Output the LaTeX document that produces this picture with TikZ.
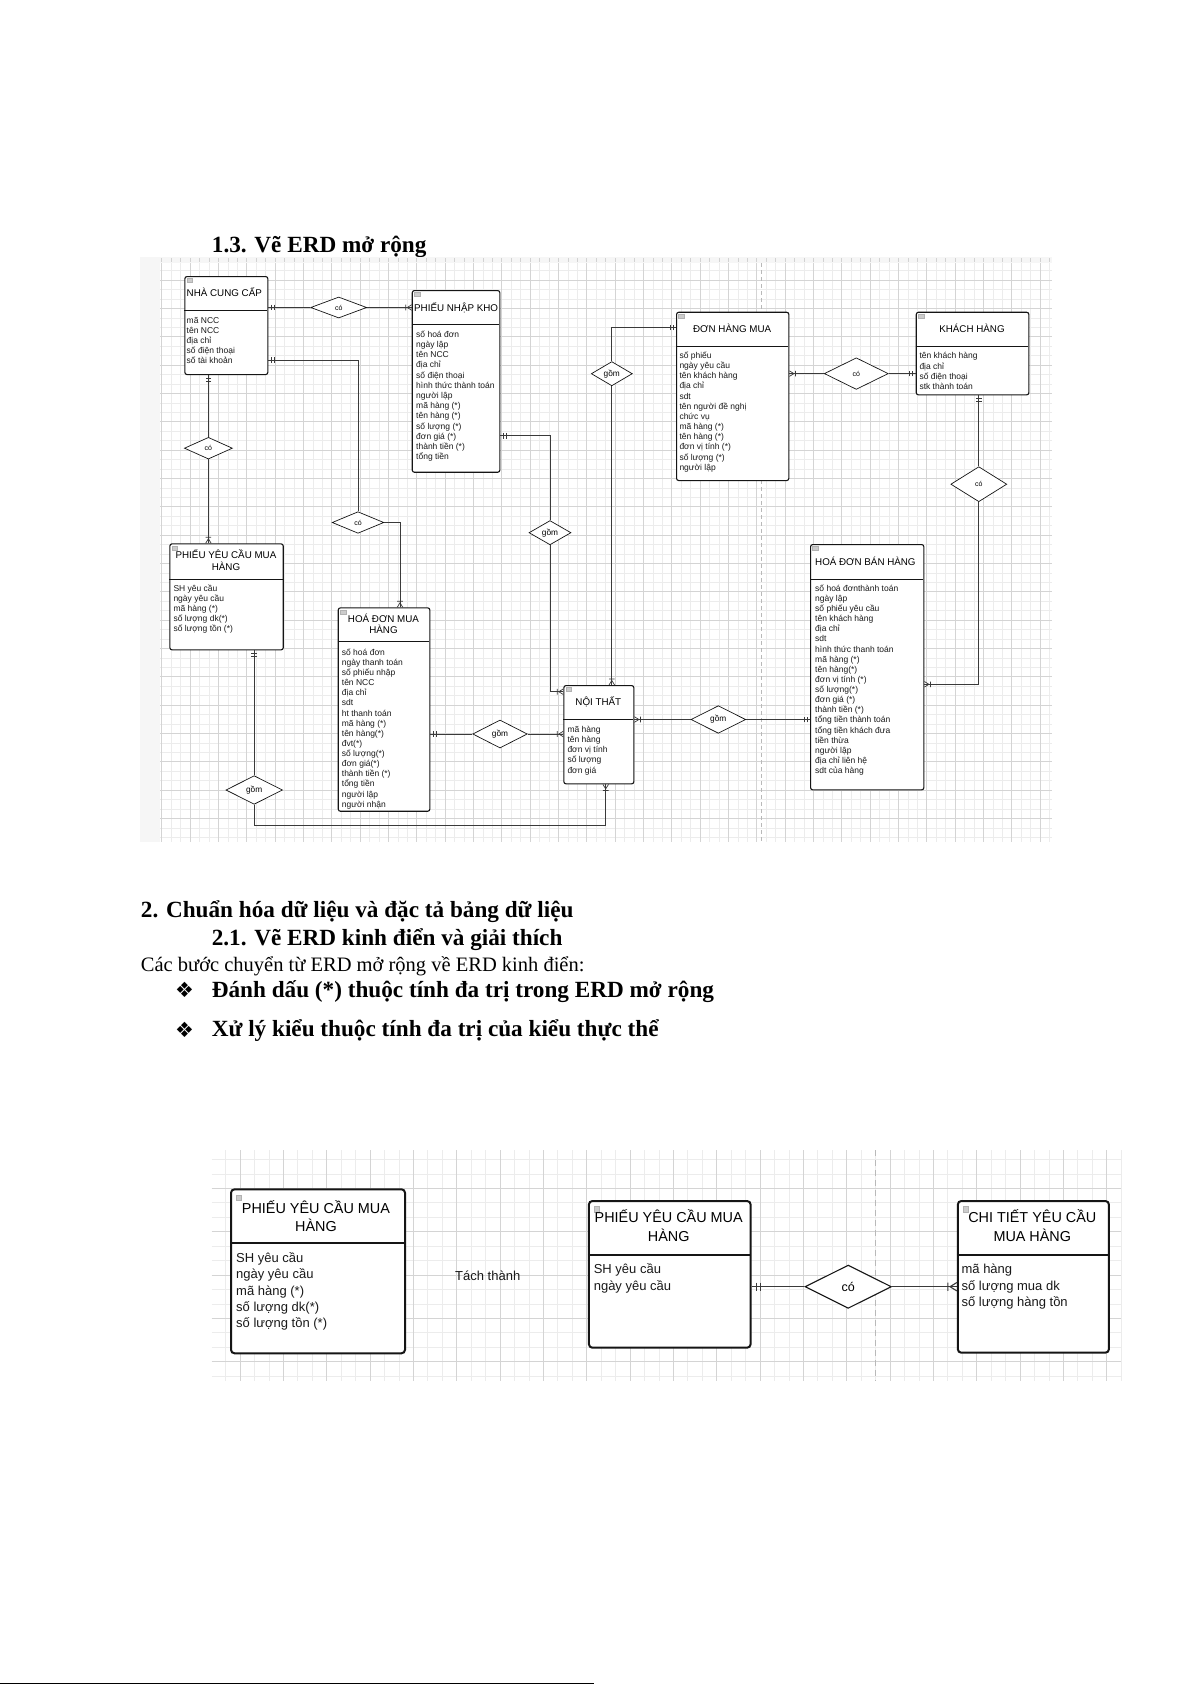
\documentclass[tikz,border=0pt]{standalone}
\usepackage{fontspec}
\setmainfont{Liberation Serif}
\newfontfamily\erdfont{Liberation Sans}
\newfontfamily\symfont{DejaVu Sans}
\usetikzlibrary{shapes.geometric}
\definecolor{gmin}{HTML}{ECECEC}
\definecolor{gmaj}{HTML}{D4D4D4}
\definecolor{lnc}{HTML}{3A3A3A}
\definecolor{boxc}{HTML}{151515}
\newcommand{\myfs}[2]{\fontsize{#1bp}{#2bp}\selectfont}
\newcommand{\mkentA}[6]{%
  \node[entA,minimum width=#4bp,minimum height=#5bp] (#1) at (#2,#3) {};
  \draw[sepA] (#2,#6) -- ({#2+#4},#6);
  \draw[icon] ({#2+2.5},{#3+2.5}) rectangle ({#2+8},{#3+6.5});
}
\newcommand{\mkentB}[6]{%
  \node[entB,minimum width=#4bp,minimum height=#5bp] (#1) at (#2,#3) {};
  \draw[sepB] (#2,#6) -- ({#2+#4},#6);
  \draw[icon] ({#2+6},{#3+6.5}) rectangle ({#2+11},{#3+12});
}
\begin{document}
\begin{tikzpicture}[x=1bp,y=-1bp,
 hd/.style={font=\myfs{23.2}{28}\bfseries,inner sep=0,anchor=base west},
 bodytxt/.style={font=\myfs{20.5}{24},inner sep=0,anchor=base west},
 bul/.style={font=\symfont\myfs{21}{24},inner sep=0,anchor=base west},
 entA/.style={draw=boxc,line width=1.1bp,rounded corners=2.2bp,fill=white,inner sep=0,anchor=north west},
 entB/.style={draw=boxc,line width=2bp,rounded corners=3.5bp,fill=white,inner sep=0,anchor=north west},
 sepA/.style={draw=boxc,line width=1bp},
 sepB/.style={draw=boxc,line width=1.8bp},
 icon/.style={fill=gray!40,draw=gray!60,line width=0.3bp},
 attr/.style={font=\erdfont\myfs{8.5}{10},inner sep=0,anchor=base west,text=black!90},
 ttl/.style={font=\erdfont\myfs{9.8}{11},inner sep=0,anchor=base west},
 ttlc/.style={ttl,anchor=base},
 attrB/.style={font=\erdfont\myfs{13}{15},inner sep=0,anchor=base west,text=black!90},
 ttlB/.style={font=\erdfont\myfs{14.4}{16},inner sep=0,anchor=base},
 rel/.style={diamond,draw=boxc,line width=0.7bp,fill=white,inner sep=0,font=\erdfont\myfs{7}{8}},
 gom/.style={rel,font=\erdfont\myfs{8.3}{9}},
 relB/.style={diamond,draw=boxc,line width=1.1bp,fill=white,inner sep=0,font=\erdfont\myfs{12.5}{14}},
 conn/.style={draw=lnc,line width=0.75bp},
 connB/.style={draw=lnc,line width=1.1bp},
 mk/.style={draw=lnc,line width=0.7bp},
 pics/one/.style={code={\draw[mk] (3,-2.8)--(3,2.8) (6,-2.8)--(6,2.8);}},
 pics/many/.style={code={\draw[mk] (0,-2.8)--(4.5,0)--(0,2.8) (6,-2.8)--(6,2.8);}},
]
\useasboundingbox (0,0) rectangle (1191,1685);
\fill[white] (0,0) rectangle (1191,1685);

% ---------------- page text ----------------
\node[hd] (h13) at (211.7,252.7) {1.3. Vẽ ERD mở rộng};
\node[hd] (h2) at (140.7,917.6) {2. Chuẩn hóa dữ liệu và đặc tả bảng dữ liệu};
\node[hd] (h21) at (211.6,945) {2.1. Vẽ ERD kinh điển và giải thích};
\node[bodytxt] (p1) at (140.7,971.9) {Các bước chuyển từ ERD mở rộng về ERD kinh điển:};
\node[bul] (b1) at (175,997.5) {❖};
\node[hd] (t1) at (211.6,997) {Đánh dấu (*) thuộc tính đa trị trong ERD mở rộng};
\node[bul] (b2) at (175,1037.1) {❖};
\node[hd] (t2) at (211.6,1036.6) {Xử lý kiểu thuộc tính đa trị của kiểu thực thể};
\draw[line width=1.6bp] (0,1683.5) -- (594,1683.5);

% ---------------- screenshot 1 background ----------------
\fill[gray!7] (140,257) rectangle (1052,842);
\fill[white] (160,263) rectangle (1052,842);
\foreach \i in {0,...,94} \draw[gmin,line width=0.5bp] ({161.7+9.4444*\i},263) -- ({161.7+9.4444*\i},842);
\foreach \j in {-1,...,59} \draw[gmin,line width=0.5bp] (160,{280+9.4444*\j}) -- (1052,{280+9.4444*\j});
\foreach \i in {0,...,31} \draw[gmaj,line width=0.6bp] ({161.7+28.333*\i},263) -- ({161.7+28.333*\i},842);
\foreach \j in {0,...,19} \draw[gmaj,line width=0.6bp] (160,{280+28.333*\j}) -- (1052,{280+28.333*\j});
\foreach \i in {0,...,94} \draw[gray!35,line width=0.5bp] ({161.7+9.4444*\i},258) -- ++(0,3.5);
\draw[gray!55,line width=0.8bp,dash pattern=on 4bp off 3bp] (761.3,263) -- (761.3,842);

% ---------------- entities (ERD mở rộng) ----------------
\mkentA{ncc}{184.3}{276}{83}{98}{310.7}
\node[ttl] (ncc-t) at (186.5,296.3) {NHÀ CUNG CẤP};
\foreach \t [count=\i from 0] in {mã NCC,tên NCC,địa chỉ,số điện thoại,số tài khoản}
  \node[attr] (ncc-a\i) at (186.5,{323+10.2*\i}) {\t};

\mkentA{pnk}{411.7}{290}{87.6}{181.7}{324.3}
\node[ttl] (pnk-t) at (414,311.3) {PHIẾU NHẬP KHO};
\foreach \t [count=\i from 0] in {số hoá đơn,ngày lập,tên NCC,địa chỉ,số điện thoại,hình thức thành toán,người lập,mã hàng (*),tên hàng (*),số lượng (*),đơn giá (*),thành tiền (*),tổng tiền}
  \node[attr] (pnk-a\i) at (416,{337.3+10.2*\i}) {\t};

\mkentA{dhm}{676}{311.7}{112.3}{168.3}{346.7}
\node[ttlc] (dhm-t) at (732.2,332) {ĐƠN HÀNG MUA};
\foreach \t [count=\i from 0] in {số phiếu,ngày yêu cầu,tên khách hàng,địa chỉ,sdt,tên người đề nghị,chức vụ,mã hàng (*),tên hàng (*),đơn vị tính (*),số lượng (*),người lập}
  \node[attr] (dhm-a\i) at (679.3,{358.3+10.18*\i}) {\t};

\mkentA{kh}{915.7}{311.7}{112.6}{82.6}{346.7}
\node[ttlc] (kh-t) at (972,332) {KHÁCH HÀNG};
\foreach \t [count=\i from 0] in {tên khách hàng,địa chỉ,số điện thoại,stk thành toán}
  \node[attr] (kh-a\i) at (919.3,{358.7+10.3*\i}) {\t};

\mkentA{pyc}{169.3}{543.3}{113.4}{106}{579.3}
\node[ttlc] (pyc-t1) at (226,558) {PHIẾU YÊU CẦU MUA};
\node[ttlc] (pyc-t2) at (226,570.3) {HÀNG};
\foreach \t [count=\i from 0] in {SH yêu cầu,ngày yêu cầu,mã hàng (*),số lượng dk(*),số lượng tồn (*)}
  \node[attr] (pyc-a\i) at (173.3,{591.3+10.1*\i}) {\t};

\mkentA{hdm}{337.7}{607.3}{91.6}{203.4}{641.7}
\node[ttlc] (hdm-t1) at (383.5,622) {HOÁ ĐƠN MUA};
\node[ttlc] (hdm-t2) at (383.5,633.7) {HÀNG};
\foreach \t [count=\i from 0] in {số hoá đơn,ngày thanh toán,số phiếu nhập,tên NCC,địa chỉ,sdt,ht thanh toán,mã hàng (*),tên hàng(*),đvt(*),số lượng(*),đơn giá(*),thành tiền (*),tổng tiền,người lập,người nhận}
  \node[attr] (hdm-a\i) at (341.7,{655.3+10.13*\i}) {\t};

\mkentA{nt}{563.3}{685}{70}{98.3}{719.3}
\node[ttlc] (nt-t) at (598.3,705.3) {NỘI THẤT};
\foreach \t [count=\i from 0] in {mã hàng,tên hàng,đơn vị tính,số lượng,đơn giá}
  \node[attr] (nt-a\i) at (567.3,{732.3+10.2*\i}) {\t};

\mkentA{hdb}{810}{544}{113.3}{245.3}{579.3}
\node[ttl] (hdb-t) at (815,565.3) {HOÁ ĐƠN BÁN HÀNG};
\foreach \t [count=\i from 0] in {số hoá đơnthành toán,ngày lập,số phiếu yêu cầu,tên khách hàng,địa chỉ,sdt,hình thức thanh toán,mã hàng (*),tên hàng(*),đơn vị tính (*),số lượng(*),đơn giá (*),thành tiền (*),tổng tiền thành toán,tổng tiền khách đưa,tiền thừa,người lập,địa chỉ liên hệ,sdt của hàng}
  \node[attr] (hdb-a\i) at (815,{591.3+10.13*\i}) {\t};

% ---------------- relationships ----------------
\node[rel,minimum width=56bp,minimum height=21bp] (d1) at (338.7,307.5) {có};
\node[rel,minimum width=48bp,minimum height=21.7bp] (d2) at (208.4,448.2) {có};
\node[rel,minimum width=51.6bp,minimum height=21.6bp] (d3) at (358,522.5) {có};
\node[gom,minimum width=41bp,minimum height=20.7bp] (d4) at (611.8,373.7) {gồm};
\node[rel,minimum width=64bp,minimum height=31.6bp] (d5) at (856.3,373.6) {có};
\node[rel,minimum width=56bp,minimum height=35bp] (d6) at (978.8,484.2) {có};
\node[gom,minimum width=54.6bp,minimum height=28bp] (d7) at (500,734) {gồm};
\node[gom,minimum width=54.7bp,minimum height=27.6bp] (d8) at (718.3,719.5) {gồm};
\node[gom,minimum width=56.6bp,minimum height=28.6bp] (d9) at (254.2,790) {gồm};
\node[gom,minimum width=42bp,minimum height=19.5bp] (d10) at (550,532.7) {gồm};

% ---------------- connectors ----------------
\draw[conn] (ncc.east |- d1) -- (d1.west) (d1.east) -- (pnk.west |- d1);
\pic at (ncc.east |- d1) {one};
\pic[rotate=180] at (pnk.west |- d1) {many};

\draw[conn] (ncc.south -| d2) -- (d2.north) (d2.south) -- (pyc.north -| d2);
\pic[rotate=-90] at (ncc.south -| d2) {one};
\pic[rotate=90] at (pyc.north -| d2) {many};

\coordinate (k3) at (358,360);
\coordinate (k3b) at (400,522.5);
\draw[conn] (ncc.east |- k3) -- (k3) -- (d3.north) (d3.east) -- (k3b) -- (hdm.north -| k3b);
\pic at (ncc.east |- k3) {one};
\pic[rotate=90] at (hdm.north -| k3b) {many};

\coordinate (k4) at (550,435.7);
\coordinate (k4b) at (550,691.7);
\draw[conn] (pnk.east |- k4) -- (k4) -- (d10.north) (d10.south) -- (k4b) -- (nt.west |- k4b);
\pic at (pnk.east |- k4) {one};
\pic[rotate=180] at (nt.west |- k4b) {many};

\coordinate (k5) at (611.8,327.3);
\draw[conn] (d4.north) -- (k5) -- (dhm.west |- k5) (d4.south) -- (nt.north -| d4);
\pic[rotate=180] at (dhm.west |- k5) {one};
\pic[rotate=90] at (nt.north -| d4) {many};

\draw[conn] (dhm.east |- d5) -- (d5.west) (d5.east) -- (kh.west |- d5);
\pic at (dhm.east |- d5) {many};
\pic[rotate=180] at (kh.west |- d5) {one};

\coordinate (k7) at (978.8,684.3);
\draw[conn] (kh.south -| d6) -- (d6.north) (d6.south) -- (k7) -- (hdb.east |- k7);
\pic[rotate=-90] at (kh.south -| d6) {one};
\pic at (hdb.east |- k7) {many};

\draw[conn] (hdm.east |- d7) -- (d7.west) (d7.east) -- (nt.west |- d7);
\pic at (hdm.east |- d7) {one};
\pic[rotate=180] at (nt.west |- d7) {many};

\draw[conn] (nt.east |- d8) -- (d8.west) (d8.east) -- (hdb.west |- d8);
\pic at (nt.east |- d8) {many};
\pic[rotate=180] at (hdb.west |- d8) {one};

\coordinate (k10) at (254.2,825);
\coordinate (k10b) at (605.7,825);
\draw[conn] (pyc.south -| d9) -- (d9.north) (d9.south) -- (k10) -- (k10b) -- (nt.south -| k10b);
\pic[rotate=-90] at (pyc.south -| d9) {one};
\pic[rotate=-90] at (nt.south -| k10b) {many};

% ---------------- screenshot 2 background ----------------
\fill[white] (211.7,1150) rectangle (1121,1381);
\foreach \i in {-1,...,61} \draw[gmin,line width=0.6bp] ({240+14.444*\i},1150) -- ({240+14.444*\i},1381);
\foreach \j in {-2,...,13} \draw[gmin,line width=0.6bp] (211.7,{1188.3+14.444*\j}) -- (1121,{1188.3+14.444*\j});
\foreach \i in {0,...,20} \draw[gmaj,line width=0.8bp] ({240+43.333*\i},1150) -- ({240+43.333*\i},1381);
\foreach \j in {0,...,4} \draw[gmaj,line width=0.8bp] (211.7,{1188.3+43.333*\j}) -- (1121,{1188.3+43.333*\j});
\draw[gray!55,line width=1.2bp,dash pattern=on 6bp off 4bp] (875.7,1150) -- (875.7,1381);

% ---------------- entities (ERD kinh điển) ----------------
\mkentB{pa}{230}{1188.3}{174}{164}{1242.7}
\node[ttlB] (pa-t1) at (316,1213.5) {PHIẾU YÊU CẦU MUA};
\node[ttlB] (pa-t2) at (316,1231.2) {HÀNG};
\foreach \t [count=\i from 0] in {SH yêu cầu,ngày yêu cầu,mã hàng (*),số lượng dk(*),số lượng tồn (*)}
  \node[attrB] (pa-a\i) at (236,{1262.8+16.1*\i}) {\t};

\node[attrB] (tach) at (455,1280.5) {Tách thành};

\mkentB{pb}{587.9}{1200}{161.7}{146.7}{1255}
\node[ttlB] (pb-t1) at (668.7,1222.5) {PHIẾU YÊU CẦU MUA};
\node[ttlB] (pb-t2) at (668.7,1241.9) {HÀNG};
\foreach \t [count=\i from 0] in {SH yêu cầu,ngày yêu cầu}
  \node[attrB] (pb-a\i) at (593.6,{1273+17.2*\i}) {\t};

\mkentB{pc}{956.8}{1200}{151.1}{151.7}{1255}
\node[ttlB] (pc-t1) at (1032.3,1222.5) {CHI TIẾT YÊU CẦU};
\node[ttlB] (pc-t2) at (1032.3,1241.9) {MUA HÀNG};
\foreach \t [count=\i from 0] in {mã hàng,số lượng mua dk,số lượng hàng tồn}
  \node[attrB] (pc-a\i) at (961.4,{1273.8+16.4*\i}) {\t};

\node[relB,minimum width=86.4bp,minimum height=43.3bp] (d11) at (848.2,1286.7) {có};
\draw[connB] (pb.east |- d11) -- (d11.west) (d11.east) -- (pc.west |- d11);
\begin{scope}[mk/.style={draw=lnc,line width=1.1bp}]
\pic[scale=1.5] at (pb.east |- d11) {one};
\pic[rotate=180,scale=1.5] at (pc.west |- d11) {many};
\end{scope}
\end{tikzpicture}
\end{document}
